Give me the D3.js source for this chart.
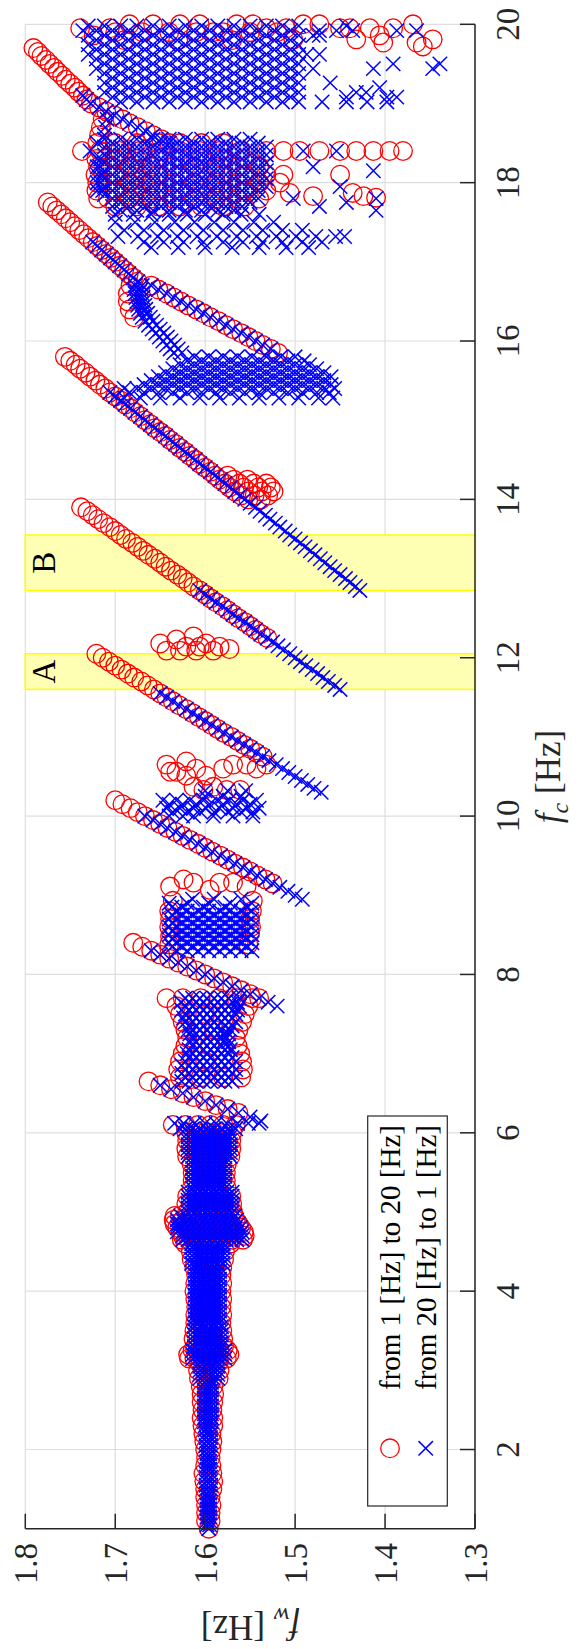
<!DOCTYPE html>
<html><head><meta charset="utf-8">
<script src="https://cdn.jsdelivr.net/npm/d3@7/dist/d3.min.js"></script>
<style>body{margin:0;background:#fff}svg{display:block}svg text{font-family:"Liberation Serif","Times New Roman",serif}</style>
</head><body>
<script>
// ---------- axes / annotation data ----------
const fcTicks=[2,4,6,8,10,12,14,16,18,20];
const fwTicks=[1.3,1.4,1.5,1.6,1.7,1.8];
const fwTickLabels=['1.3','1.4','1.5','1.6','1.7','1.8'];
const bands=[{label:'A',from:11.6,to:12.05},{label:'B',from:12.85,to:13.55}];
const legendLabels=['from 1 [Hz] to 20 [Hz]','from 20 [Hz] to 1 [Hz]'];

// ---------- red circles: sweep 1 -> 20 Hz, rows [fc, fw, fw, ...] ----------
const redColumn=[
[1.00,1.596],[1.10,1.594,1.599],[1.20,1.594,1.599],[1.30,1.593,1.599],[1.40,1.594,1.600],[1.50,1.592,1.600],[1.60,1.591,1.601],[1.70,1.592,1.602],[1.80,1.593,1.600],[1.90,1.594,1.599],[2.00,1.593,1.600],[2.10,1.592,1.601],[2.20,1.593,1.602],
[2.30,1.591,1.597,1.603],[2.40,1.591,1.597,1.604],[2.50,1.592,1.598,1.603],[2.60,1.591,1.597,1.604],[2.70,1.590,1.597,1.604],[2.80,1.591,1.598,1.605],
[2.90,1.585,1.592,1.600,1.607],[3.00,1.584,1.592,1.600,1.608],[3.10,1.585,1.593,1.601,1.607],
[3.15,1.576,1.585,1.594,1.603,1.612,1.618],[3.20,1.573,1.582,1.591,1.600,1.610,1.619],[3.25,1.575,1.584,1.594,1.604,1.614],
[3.30,1.579,1.589,1.600,1.611],[3.40,1.580,1.590,1.601,1.613],[3.50,1.581,1.591,1.602,1.612],[3.60,1.582,1.592,1.602,1.611],[3.70,1.581,1.591,1.601,1.611],[3.80,1.582,1.592,1.602,1.610],[3.90,1.581,1.591,1.601,1.611],[4.00,1.582,1.592,1.602,1.612],[4.10,1.581,1.591,1.602,1.611],[4.20,1.582,1.592,1.602,1.610],[4.30,1.581,1.591,1.601,1.612],
[4.40,1.579,1.590,1.603,1.615],[4.50,1.578,1.590,1.603,1.616],[4.60,1.572,1.584,1.597,1.610,1.622],
[4.65,1.558,1.570,1.582,1.594,1.606,1.618,1.626],[4.70,1.556,1.568,1.580,1.592,1.604,1.616,1.625],[4.75,1.557,1.569,1.581,1.593,1.605,1.617,1.627],[4.80,1.560,1.571,1.583,1.595,1.607,1.619,1.631],[4.85,1.563,1.574,1.586,1.598,1.610,1.622,1.634],[4.90,1.566,1.577,1.589,1.601,1.613,1.625,1.635],[4.95,1.568,1.580,1.592,1.604,1.616,1.628,1.634],
[5.00,1.569,1.582,1.595,1.608,1.620],[5.10,1.570,1.583,1.596,1.609,1.621],[5.20,1.571,1.584,1.597,1.610,1.620],
[5.30,1.576,1.588,1.600,1.615],[5.40,1.577,1.589,1.601,1.614],[5.50,1.577,1.589,1.602,1.614],[5.60,1.576,1.588,1.601,1.615],
[5.70,1.572,1.584,1.597,1.609,1.620],[5.80,1.571,1.583,1.596,1.609,1.621],[5.90,1.571,1.583,1.596,1.609,1.620],[6.00,1.570,1.583,1.596,1.609,1.621],[6.10,1.566,1.580,1.594,1.608,1.622,1.636]
];
const redBranches=[
[6.25,1.563],[6.30,1.575],[6.35,1.588],[6.40,1.600],[6.45,1.613],[6.50,1.625],[6.55,1.638],[6.60,1.650],[6.65,1.663],
[7.70,1.540],[7.75,1.550],[7.80,1.560],[7.85,1.570],[7.90,1.580],[7.95,1.590],[8.00,1.600],[8.05,1.610],[8.10,1.620],[8.15,1.630],[8.20,1.640],[8.25,1.650],[8.30,1.660],[8.35,1.670],[8.40,1.680],
[9.15,1.525],[9.20,1.533],[9.25,1.542],[9.30,1.550],[9.35,1.558],[9.40,1.567],[9.45,1.575],[9.50,1.583],[9.55,1.592],[9.60,1.600],[9.65,1.608],[9.70,1.617],[9.75,1.625],[9.80,1.633],[9.85,1.642],[9.90,1.650],[9.95,1.658],[10.00,1.667],[10.05,1.675],[10.10,1.683],[10.15,1.692],[10.20,1.700],
[10.75,1.536],[10.80,1.543],[10.85,1.550],[10.90,1.557],[10.95,1.564],[11.00,1.571],[11.05,1.579],[11.10,1.586],[11.15,1.593],[11.20,1.600],[11.25,1.607],[11.30,1.614],[11.35,1.621],[11.40,1.629],[11.45,1.636],[11.50,1.643],[11.55,1.650],[11.60,1.657],[11.65,1.664],[11.70,1.671],[11.75,1.679],[11.80,1.686],[11.85,1.693],[11.90,1.700],[11.95,1.707],[12.00,1.714],[12.05,1.721],
[12.25,1.531],[12.30,1.538],[12.35,1.544],[12.40,1.550],[12.45,1.556],[12.50,1.563],[12.55,1.569],[12.60,1.575],[12.65,1.581],[12.70,1.588],[12.75,1.594],[12.80,1.600],[12.85,1.606],[12.90,1.613],[12.95,1.619],[13.00,1.625],[13.05,1.631],[13.10,1.638],[13.15,1.644],[13.20,1.650],[13.25,1.656],[13.30,1.663],[13.35,1.669],[13.40,1.675],[13.45,1.681],[13.50,1.688],[13.55,1.694],[13.60,1.700],[13.65,1.706],[13.70,1.713],[13.75,1.719],[13.80,1.725],[13.85,1.731],[13.90,1.738],
[14.00,1.552,1.538],[14.05,1.560,1.545,1.530],[14.10,1.567,1.552,1.537,1.524],[14.15,1.573,1.557,1.541,1.527],[14.20,1.578,1.562,1.546,1.532],[14.25,1.584,1.568,1.553],[14.30,1.589,1.575],
[14.35,1.594],[14.40,1.600],[14.45,1.606],[14.50,1.611],[14.55,1.617],[14.60,1.622],[14.65,1.628],[14.70,1.633],[14.75,1.639],[14.80,1.644],[14.85,1.650],[14.90,1.656],[14.95,1.661],[15.00,1.667],[15.05,1.672],[15.10,1.678],[15.15,1.683],[15.20,1.689],[15.25,1.694],[15.30,1.700],[15.35,1.706],[15.40,1.711],[15.45,1.717],[15.50,1.722],[15.55,1.728],[15.60,1.733],[15.65,1.739],[15.70,1.744],[15.75,1.750],[15.80,1.756],
[15.85,1.519],[15.90,1.527],[15.95,1.536],[16.00,1.544],[16.05,1.552],[16.10,1.560],[16.15,1.569],[16.20,1.577],[16.25,1.585],[16.30,1.594],[16.35,1.602],[16.40,1.610],[16.45,1.619],[16.50,1.627],[16.55,1.635],[16.60,1.643],[16.65,1.652],[16.70,1.660],
[16.30,1.679],[16.40,1.684],[16.50,1.686],[16.60,1.686],[16.70,1.683],
[16.75,1.675],[16.80,1.680],[16.85,1.685],[16.90,1.690],[16.95,1.695],[17.00,1.700],[17.05,1.705],[17.10,1.710],[17.15,1.715],[17.20,1.720],[17.25,1.725],[17.30,1.730],[17.35,1.735],[17.40,1.740],[17.45,1.745],[17.50,1.750],[17.55,1.755],[17.60,1.760],[17.65,1.765],[17.70,1.770],[17.75,1.775],
[18.50,1.640],[18.55,1.649],[18.60,1.658],[18.65,1.666],[18.70,1.675],[18.75,1.684],[18.80,1.692],[18.85,1.701],[18.90,1.710],[18.95,1.718],
[19.00,1.727],[19.05,1.732],[19.10,1.736],[19.15,1.741],[19.20,1.745],[19.25,1.750],[19.30,1.755],[19.35,1.759],[19.40,1.764],[19.45,1.768],[19.50,1.773],[19.55,1.777],[19.60,1.782],[19.65,1.786],[19.70,1.791]
];
const redClusters=[
[6.70,1.628,1.605,1.580,1.560],[6.80,1.630,1.558],[6.90,1.628,1.600,1.559],[7.00,1.625,1.561],[7.10,1.622,1.595,1.564],[7.20,1.620,1.566],[7.30,1.622,1.590,1.563],[7.40,1.625,1.559],[7.50,1.628,1.600,1.556],[7.60,1.632,1.552],[7.70,1.643,1.625,1.605,1.585,1.565,1.548],
[8.38,1.640,1.552],[8.48,1.639],[8.52,1.550],[8.60,1.640,1.549],[8.70,1.639,1.550],[8.80,1.640,1.548],[8.93,1.636,1.547],[9.07,1.595],[9.11,1.639,1.554],[9.16,1.613,1.584,1.569],[9.20,1.624],
[10.33,1.602,1.576,1.561],[10.37,1.591,1.613],[10.51,1.599,1.621],[10.56,1.632,1.639],[10.60,1.610,1.580,1.543],[10.65,1.643,1.569,1.554,1.532],[10.69,1.621],
[12.09,1.643,1.628,1.610,1.591],[12.11,1.573],[12.14,1.621,1.606,1.584],[12.18,1.650,1.599],[12.23,1.632],[12.27,1.613],
[17.70,1.700,1.676,1.652,1.628,1.604,1.580,1.556],[17.80,1.719,1.708,1.684,1.660,1.636,1.612,1.588,1.564,1.540],[17.81,1.410],[17.83,1.480,1.424],[17.87,1.506,1.436],
[17.90,1.721,1.700,1.676,1.652,1.628,1.604,1.580,1.556,1.532],[18.00,1.720,1.708,1.684,1.660,1.636,1.612,1.588,1.564,1.540,1.517],[18.10,1.722,1.700,1.676,1.652,1.628,1.604,1.580,1.556,1.532,1.513,1.450],
[18.20,1.719,1.708,1.684,1.660,1.636,1.612,1.588,1.564,1.540],[18.30,1.721,1.700,1.676,1.652,1.628,1.604,1.580,1.556],
[18.40,1.737,1.717,1.695,1.673,1.650,1.628,1.606,1.584,1.561,1.532,1.513,1.495,1.473,1.450,1.432,1.413,1.395,1.380],
[18.50,1.720,1.700,1.676,1.652,1.628,1.604,1.580],[18.60,1.718],[18.70,1.716],[18.80,1.714],
[19.72,1.358],[19.77,1.402,1.365],[19.80,1.690,1.630,1.570],[19.81,1.502,1.432,1.347],[19.86,1.724,1.406],
[19.90,1.700,1.670,1.640,1.610,1.591,1.580,1.550,1.520],[19.95,1.739,1.706,1.532,1.510,1.450,1.439,1.417,1.391],[20.00,1.684,1.658,1.628,1.606,1.565,1.547,1.491,1.473,1.369]
];

// ---------- blue crosses: sweep 20 -> 1 Hz, rows [fc, fw, fw, ...] ----------
const blueColumn=[
[1.00,1.596],[1.05,1.595,1.598],[1.10,1.595,1.598],[1.15,1.595,1.598],[1.20,1.595,1.598],[1.25,1.595,1.598],[1.30,1.595,1.598],[1.35,1.595,1.598],[1.40,1.595,1.598],[1.45,1.595,1.598],[1.50,1.594,1.599],[1.55,1.594,1.599],[1.60,1.594,1.599],[1.65,1.594,1.599],[1.70,1.594,1.599],[1.75,1.595,1.598],[1.80,1.595,1.598],[1.85,1.595,1.598],[1.90,1.595,1.598],[1.95,1.595,1.598],[2.00,1.594,1.599],[2.05,1.594,1.599],[2.10,1.594,1.599],[2.15,1.594,1.599],[2.20,1.594,1.599],[2.25,1.594,1.600],[2.30,1.594,1.600],
[2.35,1.593,1.597,1.601],[2.40,1.593,1.597,1.601],[2.45,1.593,1.597,1.601],[2.50,1.593,1.597,1.601],[2.55,1.593,1.597,1.601],[2.60,1.593,1.597,1.601],[2.65,1.593,1.597,1.601],[2.70,1.593,1.597,1.601],[2.75,1.593,1.597,1.601],[2.80,1.593,1.597,1.601],[2.85,1.593,1.597,1.601],
[2.90,1.586,1.591,1.596,1.601,1.606],[2.95,1.586,1.591,1.596,1.601,1.606],[3.00,1.586,1.591,1.596,1.601,1.606],[3.05,1.586,1.591,1.596,1.601,1.606],[3.10,1.586,1.591,1.596,1.601,1.606],
[3.15,1.578,1.584,1.590,1.596,1.602,1.608,1.614],[3.20,1.578,1.584,1.590,1.596,1.602,1.608,1.614],[3.25,1.578,1.584,1.590,1.596,1.602,1.608,1.614],
[3.30,1.582,1.588,1.594,1.600,1.606,1.612],[3.35,1.582,1.588,1.594,1.600,1.606,1.612],[3.40,1.582,1.588,1.594,1.600,1.606,1.612],[3.45,1.582,1.588,1.594,1.600,1.606,1.612],[3.50,1.582,1.588,1.594,1.600,1.606,1.612],[3.55,1.582,1.588,1.594,1.600,1.606,1.612],
[3.60,1.584,1.590,1.596,1.602,1.608,1.611],[3.65,1.584,1.590,1.596,1.602,1.608,1.611],[3.70,1.584,1.590,1.596,1.602,1.608,1.611],[3.75,1.584,1.590,1.596,1.602,1.608,1.611],[3.80,1.584,1.590,1.596,1.602,1.608,1.611],[3.85,1.584,1.590,1.596,1.602,1.608,1.611],[3.90,1.584,1.590,1.596,1.602,1.608,1.611],[3.95,1.584,1.590,1.596,1.602,1.608,1.611],[4.00,1.584,1.590,1.596,1.602,1.608,1.611],[4.05,1.584,1.590,1.596,1.602,1.608,1.611],[4.10,1.584,1.590,1.596,1.602,1.608,1.611],[4.15,1.584,1.590,1.596,1.602,1.608,1.611],[4.20,1.584,1.590,1.596,1.602,1.608,1.611],[4.25,1.584,1.590,1.596,1.602,1.608,1.611],[4.30,1.584,1.590,1.596,1.602,1.608,1.611],
[4.35,1.580,1.586,1.592,1.598,1.604,1.610,1.615],[4.40,1.580,1.586,1.592,1.598,1.604,1.610,1.615],[4.45,1.580,1.586,1.592,1.598,1.604,1.610,1.615],[4.50,1.580,1.586,1.592,1.598,1.604,1.610,1.615],[4.55,1.580,1.586,1.592,1.598,1.604,1.610,1.615],[4.60,1.580,1.586,1.592,1.598,1.604,1.610,1.615],
[4.65,1.559,1.565,1.571,1.577,1.583,1.589,1.595,1.601,1.607,1.613,1.619,1.625],[4.70,1.559,1.565,1.571,1.577,1.583,1.589,1.595,1.601,1.607,1.613,1.619,1.625],[4.75,1.559,1.565,1.571,1.577,1.583,1.589,1.595,1.601,1.607,1.613,1.619,1.625,1.631],[4.80,1.561,1.567,1.573,1.579,1.585,1.591,1.597,1.603,1.609,1.615,1.621,1.627,1.631],[4.85,1.563,1.569,1.575,1.581,1.587,1.593,1.599,1.605,1.611,1.617,1.623,1.629,1.631],[4.90,1.565,1.571,1.577,1.583,1.589,1.595,1.601,1.607,1.613,1.619,1.625,1.631],[4.95,1.567,1.573,1.579,1.585,1.591,1.597,1.603,1.609,1.615,1.621,1.627],
[5.00,1.570,1.576,1.582,1.588,1.594,1.600,1.606,1.612,1.619],[5.05,1.570,1.576,1.582,1.588,1.594,1.600,1.606,1.612,1.619],[5.10,1.570,1.576,1.582,1.588,1.594,1.600,1.606,1.612,1.619],[5.15,1.570,1.576,1.582,1.588,1.594,1.600,1.606,1.612,1.619],[5.20,1.570,1.576,1.582,1.588,1.594,1.600,1.606,1.612,1.619],[5.25,1.570,1.576,1.582,1.588,1.594,1.600,1.606,1.612,1.619],
[5.30,1.578,1.584,1.590,1.596,1.602,1.608,1.614],[5.35,1.578,1.584,1.590,1.596,1.602,1.608,1.614],[5.40,1.578,1.584,1.590,1.596,1.602,1.608,1.614],[5.45,1.578,1.584,1.590,1.596,1.602,1.608,1.614],[5.50,1.578,1.584,1.590,1.596,1.602,1.608,1.614],[5.55,1.578,1.584,1.590,1.596,1.602,1.608,1.614],[5.60,1.578,1.584,1.590,1.596,1.602,1.608,1.614],[5.65,1.578,1.584,1.590,1.596,1.602,1.608,1.614],
[5.70,1.572,1.578,1.584,1.590,1.596,1.602,1.608,1.614,1.619],[5.75,1.572,1.578,1.584,1.590,1.596,1.602,1.608,1.614,1.619],[5.80,1.572,1.578,1.584,1.590,1.596,1.602,1.608,1.614,1.619],[5.85,1.572,1.578,1.584,1.590,1.596,1.602,1.608,1.614,1.619],[5.90,1.572,1.578,1.584,1.590,1.596,1.602,1.608,1.614,1.619],[5.95,1.572,1.578,1.584,1.590,1.596,1.602,1.608,1.614,1.619],[6.00,1.572,1.578,1.584,1.590,1.596,1.602,1.608,1.614,1.619],
[6.05,1.566,1.574,1.582,1.590,1.598,1.606,1.614,1.622,1.628],[6.12,1.540,1.552,1.564,1.576,1.588,1.600,1.612,1.624,1.634]
];
const blueBranches=[
[6.15,1.538],[6.20,1.550],[6.25,1.563],[6.30,1.575],[6.35,1.588],[6.40,1.600],[6.45,1.613],[6.50,1.625],[6.55,1.638],[6.60,1.650],
[7.60,1.520],[7.65,1.530],[7.70,1.540],[7.75,1.550],[7.80,1.560],[7.85,1.570],[7.90,1.580],[7.95,1.590],[8.00,1.600],[8.05,1.610],[8.10,1.620],[8.15,1.630],[8.20,1.640],[8.25,1.650],[8.30,1.660],
[8.95,1.492],[9.00,1.500],[9.05,1.508],[9.10,1.517],[9.15,1.525],[9.20,1.533],[9.25,1.542],[9.30,1.550],[9.35,1.558],[9.40,1.567],[9.45,1.575],[9.50,1.583],[9.55,1.592],[9.60,1.600],[9.65,1.608],[9.70,1.617],[9.75,1.625],[9.80,1.633],[9.85,1.642],[9.90,1.650],[9.95,1.658],[10.00,1.667],
[10.30,1.471],[10.35,1.479],[10.40,1.486],[10.45,1.493],[10.50,1.500],[10.55,1.507],[10.60,1.514],[10.65,1.521],[10.70,1.529],[10.75,1.536],[10.80,1.543],[10.85,1.550],[10.90,1.557],[10.95,1.564],[11.00,1.571],[11.05,1.579],[11.10,1.586],[11.15,1.593],[11.20,1.600],[11.25,1.607],[11.30,1.614],[11.35,1.621],[11.40,1.629],[11.45,1.636],[11.50,1.643],[11.55,1.650],
[11.60,1.450],[11.65,1.456],[11.70,1.463],[11.75,1.469],[11.80,1.475],[11.85,1.481],[11.90,1.488],[11.95,1.494],[12.00,1.500],[12.05,1.506],[12.10,1.513],[12.15,1.519],[12.20,1.525],[12.25,1.531],[12.30,1.538],[12.35,1.544],[12.40,1.550],[12.45,1.556],[12.50,1.563],[12.55,1.569],[12.60,1.575],[12.65,1.581],[12.70,1.588],[12.75,1.594],[12.80,1.600],[12.85,1.606],
[12.85,1.428],[12.90,1.433],[12.95,1.439],[13.00,1.444],[13.05,1.450],[13.10,1.456],[13.15,1.461],[13.20,1.467],[13.25,1.472],[13.30,1.478],[13.35,1.483],[13.40,1.489],[13.45,1.494],[13.50,1.500],[13.55,1.506],[13.60,1.511],[13.65,1.517],[13.70,1.522],[13.75,1.528],[13.80,1.533],[13.85,1.539],[13.90,1.544],[13.95,1.550],[14.00,1.556],[14.05,1.561],[14.10,1.567],[14.15,1.572],[14.20,1.578],[14.25,1.583],[14.30,1.589],[14.35,1.594],[14.40,1.600],[14.45,1.606],[14.50,1.611],[14.55,1.617],[14.60,1.622],[14.65,1.628],[14.70,1.633],[14.75,1.639],[14.80,1.644],[14.85,1.650],[14.90,1.656],[14.95,1.661],[15.00,1.667],[15.05,1.672],[15.10,1.678],[15.15,1.683],[15.20,1.689],[15.25,1.694],[15.30,1.700],[15.35,1.706],
[15.85,1.626,1.635],[15.90,1.527,1.630,1.639],[15.95,1.536,1.634,1.643],[16.00,1.544,1.638,1.647],[16.05,1.552,1.642,1.651],[16.10,1.560,1.646,1.655],[16.15,1.569,1.650,1.659],[16.20,1.577,1.654,1.663],[16.25,1.585,1.658,1.667],[16.30,1.594,1.661,1.670],[16.35,1.602,1.664,1.672],[16.40,1.610,1.666,1.674],[16.45,1.619,1.667,1.675],[16.50,1.627,1.668,1.676],[16.55,1.635,1.669,1.677],[16.60,1.643,1.670,1.678],[16.65,1.652,1.671,1.679],[16.70,1.660,1.670,1.678],
[16.75,1.675],[16.80,1.680],[16.85,1.685],[16.90,1.690],[16.95,1.695],[17.00,1.700],[17.05,1.705],[17.10,1.710],[17.15,1.715],[17.20,1.720],[17.25,1.725],
[17.90,1.714],[18.00,1.716],[18.10,1.715],[18.20,1.717],[18.30,1.716],[18.60,1.712],[18.70,1.711],[18.80,1.709],
[18.50,1.640],[18.55,1.649],[18.60,1.658],[18.65,1.666],[18.70,1.675],[18.75,1.684],[18.80,1.692],[18.85,1.701],[18.90,1.710],[18.95,1.718],[19.00,1.727],[19.05,1.732],[19.10,1.736]
];
const blueClusters=[
[6.65,1.570,1.578,1.586,1.594,1.602,1.610,1.618,1.626],[6.70,1.566,1.574,1.582,1.590,1.598,1.606,1.614,1.622],[6.75,1.570,1.578,1.586,1.594,1.602,1.610,1.618,1.626],[6.80,1.566,1.574,1.582,1.590,1.598,1.606,1.614,1.622],[6.85,1.570,1.578,1.586,1.594,1.602,1.610,1.618,1.626],[6.90,1.566,1.574,1.582,1.590,1.598,1.606,1.614,1.622],[6.95,1.570,1.578,1.586,1.594,1.602,1.610,1.618],[7.00,1.574,1.582,1.590,1.598,1.606,1.614,1.620],[7.05,1.572,1.578,1.586,1.594,1.602,1.610,1.618],[7.10,1.574,1.582,1.590,1.598,1.606,1.614],[7.15,1.574,1.580,1.586,1.594,1.602,1.610,1.616],[7.20,1.576,1.582,1.590,1.598,1.606,1.614],[7.25,1.574,1.580,1.586,1.594,1.602,1.610,1.617],[7.30,1.572,1.582,1.590,1.598,1.606,1.614,1.619],[7.35,1.570,1.578,1.586,1.594,1.602,1.610,1.618],[7.40,1.566,1.574,1.582,1.590,1.598,1.606,1.614,1.622],[7.45,1.570,1.578,1.586,1.594,1.602,1.610,1.618,1.624],[7.50,1.566,1.574,1.582,1.590,1.598,1.606,1.614,1.622],[7.55,1.564,1.570,1.578,1.586,1.594,1.602,1.610,1.618,1.626],[7.60,1.562,1.574,1.582,1.590,1.598,1.606,1.614,1.622],[7.65,1.564,1.570,1.578,1.586,1.594,1.602,1.610,1.618,1.627],[7.70,1.562,1.574,1.582,1.590,1.598,1.606,1.614,1.622],
[8.30,1.548,1.560,1.572,1.584,1.596,1.608,1.620,1.632],[8.35,1.554,1.566,1.578,1.590,1.602,1.614,1.626,1.637],[8.40,1.548,1.560,1.572,1.584,1.596,1.608,1.620,1.632,1.640],[8.45,1.554,1.566,1.578,1.590,1.602,1.614,1.626,1.637],[8.50,1.548,1.560,1.572,1.584,1.596,1.608,1.620,1.632,1.640],[8.55,1.554,1.566,1.578,1.590,1.602,1.614,1.626,1.637],[8.60,1.548,1.560,1.572,1.584,1.596,1.608,1.620,1.632,1.640],[8.65,1.554,1.566,1.578,1.590,1.602,1.614,1.626,1.637],[8.70,1.548,1.560,1.572,1.584,1.596,1.608,1.620,1.632,1.640],[8.75,1.554,1.566,1.578,1.590,1.602,1.614,1.626,1.637],[8.80,1.548,1.560,1.572,1.584,1.596,1.608,1.620,1.632],[8.85,1.554,1.578,1.602,1.626,1.637],[8.90,1.548,1.572,1.596,1.620,1.640],[8.95,1.560,1.590,1.614],
[10.00,1.640,1.625,1.613,1.591,1.569,1.547],[10.05,1.636,1.620,1.605,1.590,1.575,1.560,1.547],[10.10,1.643,1.628,1.613,1.599,1.584,1.569,1.554,1.540],[10.15,1.640,1.625,1.610,1.595,1.580,1.565,1.550],[10.20,1.647,1.632,1.617,1.602,1.587,1.573,1.558,1.543],[10.25,1.600,1.580,1.560],[10.32,1.600,1.575,1.555],
[15.28,1.690,1.672,1.650,1.628,1.606,1.584,1.562,1.540,1.518,1.496,1.474,1.458],[15.35,1.684,1.668,1.652,1.636,1.620,1.604,1.588,1.572,1.556,1.540,1.524,1.508,1.492,1.476,1.462],[15.40,1.690,1.676,1.660,1.644,1.628,1.612,1.596,1.580,1.564,1.548,1.532,1.516,1.500,1.484,1.468,1.456],[15.45,1.668,1.652,1.636,1.620,1.604,1.588,1.572,1.556,1.540,1.524,1.508,1.492,1.476,1.460],[15.50,1.660,1.644,1.628,1.612,1.596,1.580,1.564,1.548,1.532,1.516,1.500,1.484,1.468],[15.55,1.652,1.636,1.620,1.604,1.588,1.572,1.556,1.540,1.524,1.508,1.492,1.476,1.460],[15.60,1.644,1.628,1.612,1.596,1.580,1.564,1.548,1.532,1.516,1.500,1.484,1.468],[15.65,1.636,1.620,1.604,1.588,1.572,1.556,1.540,1.524,1.508,1.492,1.476],[15.70,1.628,1.612,1.596,1.580,1.564,1.548,1.532,1.516,1.500,1.484],[15.75,1.620,1.604,1.588,1.572,1.556,1.540,1.524,1.508,1.490],[15.80,1.612,1.596,1.580,1.564,1.548,1.532,1.516,1.500],
[17.18,1.660,1.630,1.600,1.570,1.540,1.510,1.485],[17.25,1.668,1.646,1.624,1.602,1.580,1.558,1.536,1.514,1.492,1.470],[17.32,1.697,1.675,1.653,1.631,1.609,1.587,1.565,1.543,1.521,1.499,1.477,1.455,1.445],[17.40,1.690,1.668,1.646,1.624,1.602,1.580,1.558,1.536,1.514,1.492],[17.50,1.700,1.678,1.656,1.634,1.612,1.590,1.568,1.546,1.524],[17.60,1.700,1.680,1.660,1.640,1.620,1.600,1.580,1.560,1.540],
[17.65,1.694,1.676,1.658,1.640,1.622,1.604,1.586,1.568,1.410],[17.70,1.703,1.685,1.667,1.649,1.631,1.613,1.595,1.577,1.559,1.473],[17.75,1.694,1.676,1.658,1.640,1.622,1.604,1.586,1.568,1.550,1.443],[17.80,1.703,1.685,1.667,1.649,1.631,1.613,1.595,1.577,1.559,1.541,1.502,1.410],[17.85,1.712,1.694,1.676,1.658,1.640,1.622,1.604,1.586,1.568,1.550],[17.90,1.720,1.703,1.685,1.667,1.649,1.631,1.613,1.595,1.577,1.559,1.541],[17.95,1.712,1.694,1.676,1.658,1.640,1.622,1.604,1.586,1.568,1.550,1.532,1.450],[18.00,1.720,1.703,1.685,1.667,1.649,1.631,1.613,1.595,1.577,1.559,1.541],[18.05,1.712,1.694,1.676,1.658,1.640,1.622,1.604,1.586,1.568,1.550,1.532],[18.10,1.720,1.703,1.685,1.667,1.649,1.631,1.613,1.595,1.577,1.559,1.541],[18.15,1.712,1.694,1.676,1.658,1.640,1.622,1.604,1.586,1.568,1.550,1.532,1.413],[18.20,1.720,1.703,1.685,1.667,1.649,1.631,1.613,1.595,1.577,1.559,1.541,1.480],[18.25,1.712,1.694,1.676,1.658,1.640,1.622,1.604,1.586,1.568,1.550,1.532],[18.30,1.720,1.703,1.685,1.667,1.649,1.631,1.613,1.595,1.577,1.559,1.541],[18.35,1.712,1.694,1.676,1.658,1.640,1.622,1.604,1.586,1.568,1.550,1.532],[18.40,1.728,1.703,1.685,1.667,1.649,1.631,1.613,1.595,1.577,1.559,1.541,1.491,1.454],[18.45,1.712,1.694,1.676,1.658,1.640,1.622,1.604,1.586,1.568,1.550,1.532],[18.50,1.720,1.703,1.685,1.667,1.649,1.631,1.613,1.595,1.577,1.559,1.541],[18.55,1.712,1.694,1.676,1.658,1.640,1.622,1.604,1.586,1.568,1.550],
[19.02,1.694,1.676,1.658,1.640,1.622,1.604,1.586,1.568,1.550,1.532,1.514,1.496,1.470,1.443,1.420,1.398],[19.08,1.703,1.685,1.667,1.649,1.631,1.613,1.595,1.577,1.559,1.541,1.523,1.505,1.443,1.398,1.387],[19.14,1.712,1.694,1.676,1.658,1.640,1.622,1.604,1.586,1.568,1.550,1.532,1.514,1.496,1.432,1.421],[19.20,1.703,1.685,1.667,1.649,1.631,1.613,1.595,1.577,1.559,1.541,1.523,1.505,1.406],[19.26,1.712,1.694,1.676,1.658,1.640,1.622,1.604,1.586,1.568,1.550,1.532,1.514,1.496,1.461],[19.32,1.703,1.685,1.667,1.649,1.631,1.613,1.595,1.577,1.559,1.541,1.523,1.505],[19.38,1.712,1.694,1.676,1.658,1.640,1.622,1.604,1.586,1.568,1.550,1.532,1.514,1.496],[19.44,1.721,1.703,1.685,1.667,1.649,1.631,1.613,1.595,1.577,1.559,1.541,1.523,1.505,1.480,1.413,1.347],[19.50,1.712,1.694,1.676,1.658,1.640,1.622,1.604,1.586,1.568,1.550,1.532,1.514,1.496,1.391,1.339],[19.56,1.721,1.703,1.685,1.667,1.649,1.631,1.613,1.595,1.577,1.559,1.541,1.523,1.505],[19.62,1.730,1.712,1.694,1.676,1.658,1.640,1.622,1.604,1.586,1.568,1.550,1.532,1.514,1.496,1.487,1.473],[19.68,1.721,1.703,1.685,1.667,1.649,1.631,1.613,1.595,1.577,1.559,1.541,1.523,1.505],[19.74,1.730,1.712,1.694,1.676,1.658,1.640,1.622,1.604,1.586,1.568,1.550,1.532,1.514,1.496],[19.80,1.721,1.703,1.685,1.667,1.649,1.631,1.613,1.595,1.577,1.559,1.541,1.523,1.505],[19.86,1.730,1.712,1.694,1.676,1.658,1.640,1.622,1.604,1.586,1.568,1.550,1.532,1.514,1.496,1.480,1.473],[19.92,1.736,1.721,1.703,1.685,1.667,1.649,1.631,1.613,1.595,1.577,1.559,1.541,1.523,1.505,1.473,1.454,1.436,1.387,1.365],[19.98,1.730,1.712,1.694,1.676,1.658,1.640,1.622,1.604,1.586,1.568,1.550,1.532,1.514,1.496,1.443]
];

// ---------- drawing ----------
const W=1649,H=583;                      // landscape frame, rotated onto the page
const X0=120.3,X1=1624.7,Y0=475,Y1=25.3;
const x=d3.scaleLinear().domain([1,20]).range([X0,X1]);
const y=d3.scaleLinear().domain([1.3,1.8]).range([Y0,Y1]);
const FONT='"Liberation Serif","Times New Roman",serif';
const INK='#262626';

const svg=d3.select('body').append('svg').attr('width',H).attr('height',W);
svg.append('rect').attr('width',H).attr('height',W).attr('fill','#fff');
const g=svg.append('g').attr('transform',`translate(0,${W}) rotate(-90)`);

// grid
g.append('g').selectAll('line').data(fcTicks).join('line')
 .attr('x1',d=>x(d)).attr('x2',d=>x(d)).attr('y1',Y0).attr('y2',Y1)
 .attr('stroke','#dedede').attr('stroke-width',1.2);
g.append('g').selectAll('line').data(fwTicks).join('line')
 .attr('x1',X0).attr('x2',X1).attr('y1',d=>y(d)).attr('y2',d=>y(d))
 .attr('stroke','#dedede').attr('stroke-width',1.2);

// highlighted bands
g.append('g').selectAll('rect').data(bands).join('rect')
 .attr('x',d=>x(d.from)).attr('width',d=>x(d.to)-x(d.from))
 .attr('y',y(1.8)).attr('height',y(1.3)-y(1.8))
 .attr('fill','rgb(255,255,179)').attr('stroke','#ffff00').attr('stroke-width',1.5);

// markers
const flat=rows=>rows.flatMap(r=>r.slice(1).map(v=>[r[0],v]));
const redPts=[...flat(redColumn),...flat(redBranches),...flat(redClusters)];
const bluePts=[...flat(blueColumn),...flat(blueBranches),...flat(blueClusters)];
const CR=9.3, CS=7.2;
const crossPath=`M${-CS},${-CS}L${CS},${CS}M${-CS},${CS}L${CS},${-CS}`;
g.append('g').selectAll('circle').data(redPts).join('circle')
 .attr('cx',d=>x(d[0])).attr('cy',d=>y(d[1])).attr('r',CR)
 .attr('fill','none').attr('stroke','#ff0000').attr('stroke-width',1.3);
g.append('g').selectAll('path').data(bluePts).join('path')
 .attr('transform',d=>`translate(${x(d[0])},${y(d[1])})`).attr('d',crossPath)
 .attr('fill','none').attr('stroke','#0000ff').attr('stroke-width',1.5);

// band labels
g.append('g').selectAll('text').data(bands).join('text')
 .attr('x',d=>x((d.from+d.to)/2)).attr('y',55).attr('text-anchor','middle')
 .style('font-family',FONT).attr('font-size',33).attr('fill','#000').text(d=>d.label);

// axes
const ax=g.append('g').attr('stroke',INK).attr('stroke-width',1.5);
ax.append('line').attr('x1',X0).attr('x2',X1).attr('y1',Y0).attr('y2',Y0);
ax.append('line').attr('x1',X0).attr('x2',X0).attr('y1',Y0).attr('y2',Y1);
ax.selectAll('line.tx').data(fcTicks).join('line').attr('class','tx')
 .attr('x1',d=>x(d)).attr('x2',d=>x(d)).attr('y1',Y0).attr('y2',Y0-15);
ax.selectAll('line.ty').data(fwTicks).join('line').attr('class','ty')
 .attr('x1',X0).attr('x2',X0+15).attr('y1',d=>y(d)).attr('y2',d=>y(d));

g.append('g').selectAll('text').data(fcTicks).join('text')
 .attr('x',d=>x(d)).attr('y',519).attr('text-anchor','middle')
 .style('font-family',FONT).attr('font-size',33).attr('fill',INK).text(d=>d);
g.append('g').selectAll('text').data(fwTicks).join('text')
 .attr('x',106).attr('y',d=>y(d)+12).attr('text-anchor','end')
 .style('font-family',FONT).attr('font-size',33).attr('fill',INK).text((d,i)=>fwTickLabels[i]);

// axis labels
function axisLabel(sel,sub){
  sel.append('tspan').attr('font-style','italic').text('f');
  sel.append('tspan').attr('font-style','italic').attr('font-size',24).attr('dy',8).text(sub);
  sel.append('tspan').attr('dy',-8).text(' [Hz]');
}
const xl=g.append('text').attr('x',(X0+X1)/2).attr('y',560).attr('text-anchor','middle')
 .style('font-family',FONT).attr('font-size',35).attr('fill',INK);
axisLabel(xl,'c');
const yl=g.append('text').attr('transform',`translate(33,${(Y0+Y1)/2}) rotate(-90)`)
 .attr('text-anchor','middle').style('font-family',FONT).attr('font-size',35).attr('fill',INK);
axisLabel(yl,'w');

// legend
const lg=g.append('g');
lg.append('rect').attr('x',143).attr('y',367.7).attr('width',390).attr('height',79.6)
 .attr('fill','#fff').attr('stroke',INK).attr('stroke-width',1.2);
lg.append('circle').attr('cx',200.7).attr('cy',390).attr('r',CR)
 .attr('fill','none').attr('stroke','#ff0000').attr('stroke-width',1.3);
lg.append('path').attr('transform','translate(200.7,425.7)').attr('d',crossPath)
 .attr('fill','none').attr('stroke','#0000ff').attr('stroke-width',1.5);
lg.selectAll('text').data(legendLabels).join('text')
 .attr('x',259).attr('y',(d,i)=>400+i*36).style('font-family',FONT)
 .attr('font-size',29).attr('fill','#000').text(d=>d);
</script>
</body></html>
